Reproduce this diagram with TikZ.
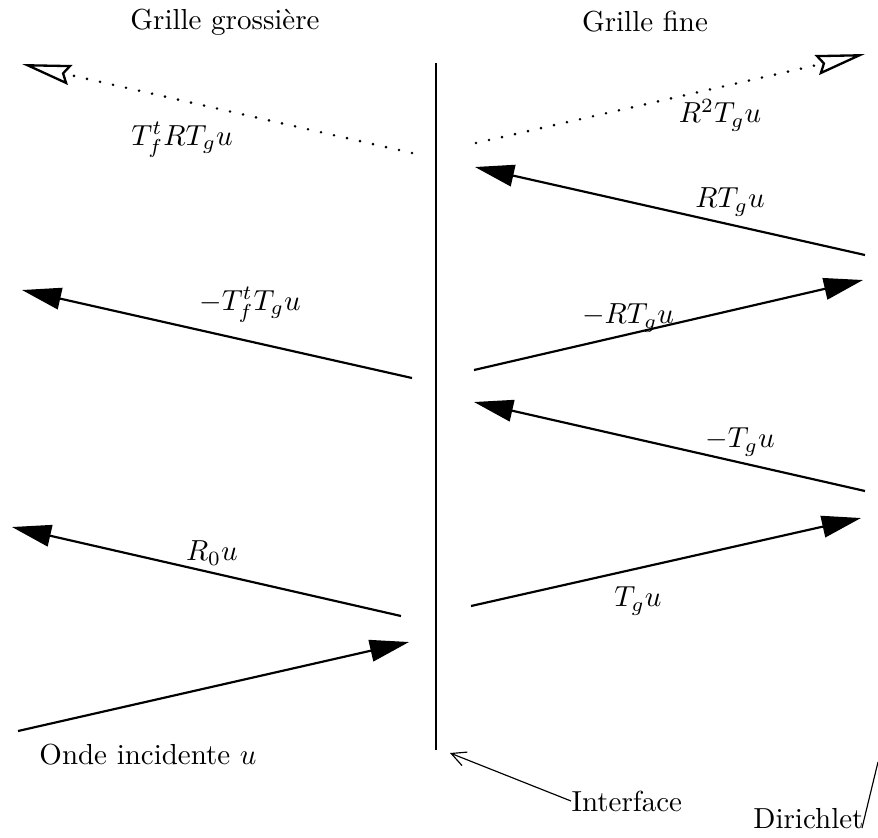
\documentclass[tikz,border=0pt]{standalone}
\usetikzlibrary{arrows.meta}
\begin{document}
\begin{tikzpicture}[x=0.345pt,y=-0.345pt,
  wave/.style={line width=0.75pt,-{Triangle[length=13.5pt,width=7.5pt]}},
  dotwave/.style={line width=1pt,line cap=round,dash pattern=on 0pt off 4.6pt,-{Stealth[open,length=17pt,width=7pt,inset=2pt,line width=0.8pt]}},
  lbl/.style={inner sep=0pt,font=\fontsize{10}{12}\selectfont},
  pointer/.style={line width=0.4pt,-{Straight Barb[length=5pt,width=5pt]}}]
\useasboundingbox (0,0) rectangle (878,837);
% interface line
\coordinate (itop) at (436,63);
\coordinate (ibot) at (436,750);
\draw[line width=1pt] (itop) -- (ibot);
% titles
\node[lbl] (tcoarse) at (225,22) {Grille grossière};
\node[lbl] (tfine) at (645,22) {Grille fine};
% coordinates
\coordinate (a1) at (18,731);   \coordinate (a2) at (409,642);
\coordinate (b1) at (401,616);  \coordinate (b2) at (12,527);
\coordinate (c1) at (471,606);  \coordinate (c2) at (861,518);
\coordinate (d1) at (865,491);  \coordinate (d2) at (474,402);
\coordinate (e1) at (474,370);  \coordinate (e2) at (863,280);
\coordinate (f1) at (412,378);  \coordinate (f2) at (22,290);
\coordinate (g1) at (865,255);  \coordinate (g2) at (475,167);
\coordinate (h1) at (476,143);  \coordinate (h2) at (865,54);
\coordinate (k1) at (412,153);  \coordinate (k2) at (22,64);
% waves
\draw[wave] (a1) -- (a2);
\draw[wave] (b1) -- (b2);
\draw[wave] (c1) -- (c2);
\draw[wave] (d1) -- (d2);
\draw[wave] (e1) -- (e2);
\draw[wave] (f1) -- (f2);
\draw[wave] (g1) -- (g2);
\draw[dotwave] (h1) -- (h2);
\draw[dotwave] (k1) -- (k2);
% labels
\node[lbl] (la) at (148,755) {Onde incidente $u$};
\node[lbl] (lb) at (212,553) {$R_0u$};
\node[lbl] (lc) at (638,601) {$T_gu$};
\node[lbl] (ld) at (740,442) {$-T_gu$};
\node[lbl] (le) at (628,318) {$-RT_gu$};
\node[lbl] (lf) at (250,305) {$-T_f^tT_gu$};
\node[lbl] (lg) at (730,202) {$RT_gu$};
\node[lbl] (lh) at (720,115) {$R^2T_gu$};
\node[lbl] (lk) at (182,140) {$T_f^tRT_gu$};
% annotations
\node[lbl,anchor=west] (interface) at (571,801) {Interface};
\coordinate (ip) at (450,753);
\draw[pointer] (interface.west) -- (ip);
\node[lbl,anchor=east] (dirichlet) at (864,819) {Dirichlet};
\coordinate (dtop) at (878,762);
\coordinate (dbot) at (862,828);
\draw[line width=0.4pt] (dbot) -- (dtop);
\end{tikzpicture}
\end{document}
